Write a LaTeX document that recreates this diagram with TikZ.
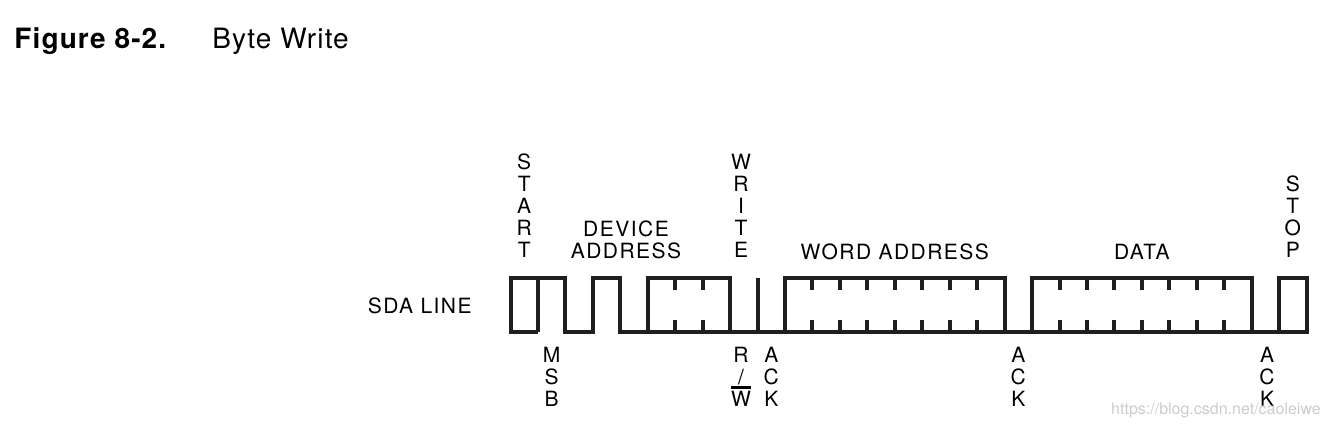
\documentclass[tikz,border=0pt]{standalone}
\usepackage{fontspec}
\setmainfont{TeX Gyre Heros}
\newfontfamily\lblfont[LetterSpace=7]{TeX Gyre Heros}
\newfontfamily\ttlfont[LetterSpace=4]{TeX Gyre Heros}
\usetikzlibrary{positioning}
\newcommand\ovW{\smash{\vbox{\hrule height 1.3pt\kern 1.3pt\hbox{W}}}}
\tikzset{
  wire/.style={line width=2pt, black!88, line join=miter},
  bittick/.style={line width=2pt, black!88},
  lbl/.style={font=\lblfont\fontsize{10.5}{11}\selectfont, inner sep=0pt, align=center},
  toplbl/.style={lbl, anchor=south},
  botlbl/.style={lbl, anchor=north},
  ttl/.style={font=\ttlfont\fontsize{14}{16}\selectfont, inner sep=0pt, anchor=base west},
  wmark/.style={font=\fontsize{8}{9}\selectfont, text=black!20, inner sep=0pt}
}
\begin{document}
\begin{tikzpicture}[x=0.5pt,y=-0.5pt]
  \useasboundingbox (0,0) rectangle (1330,429);
  \def\xo{510.5} \def\bw{27.45} \def\yh{277.5} \def\yl{332}
  % bit edges
  \foreach \k in {0,...,29}{
    \coordinate (h\k) at ({\xo+\k*\bw},\yh);
    \coordinate (l\k) at ({\xo+\k*\bw},\yl);
  }
  \draw[wire] (l1)--(l0)--(h0)--(h2)--(l2)--(l3)--(h3)--(h4)--(l4)--(l29)--(h29)--(h28)--(l28);
  \draw[wire] (l1)--(h1);
  \draw[wire] (l9)--(h9);
  \draw[wire] (l5) rectangle (h8);
  \draw[wire] (l10) rectangle (h18);
  \draw[wire] (l19) rectangle (h27);
  \foreach \k in {6,7,11,12,...,17,20,21,...,26}{
    \draw[bittick] (h\k)--++(0,12);
    \draw[bittick] (l\k)--++(0,-12);
  }
  % labels
  \node[ttl] (fig) at (14,48.3) {\bfseries Figure 8-2.};
  \node[ttl] (name) at (212,48.3) {Byte Write};
  \node[lbl, anchor=east] (sda) at (472,306) {SDA LINE};
  \node[toplbl] (start) at ({\xo+0.5*\bw},258) {S\\T\\A\\R\\T};
  \node[toplbl] (devaddr) at (626,259) {DEVICE\\ADDRESS};
  \node[toplbl] (write) at (741,258) {W\\R\\I\\T\\E};
  \node[toplbl] (wordaddr) at ({\xo+14*\bw},260) {WORD ADDRESS};
  \node[toplbl] (data) at ({\xo+23*\bw},260) {DATA};
  \node[toplbl] (stop) at ({\xo+28.5*\bw},258) {S\\T\\O\\P};
  \node[botlbl] (msb) at ({\xo+1.5*\bw},347) {M\\S\\B};
  \node[botlbl] (rw) at (741,347) {R\\/\\\ovW};
  \node[botlbl] (ackdev) at ({\xo+9.5*\bw},347) {A\\C\\K};
  \node[botlbl] (ackword) at ({\xo+18.5*\bw},347) {A\\C\\K};
  \node[botlbl] (ackdata) at (1267,347) {A\\C\\K};
  \node[wmark] (wm) at (1216,410) {https://blog.csdn.net/caoleiwe};
\end{tikzpicture}
\end{document}
